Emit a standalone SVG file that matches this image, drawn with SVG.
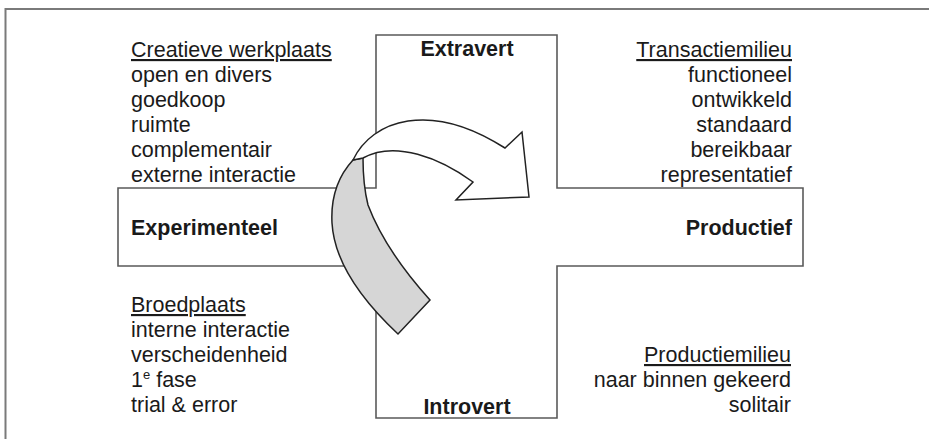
<svg xmlns="http://www.w3.org/2000/svg" width="929" height="439" viewBox="0 0 929 439">
<style>
text{font-family:"Liberation Sans",Arial,sans-serif;font-size:21.5px;fill:#1a1a1a}
.b{font-weight:bold}
.r{text-anchor:end}
.m{text-anchor:middle}
.u{text-decoration:underline}
.frame{fill:none;stroke:#7a7a7a;stroke-width:2}
.cross{fill:#fff;stroke:#5a5a5a;stroke-width:1.6}
.arrow{stroke:#222;stroke-width:1.5;stroke-linejoin:miter}
</style>
<rect width="929" height="439" fill="#fff"/>
<rect class="frame" x="5.5" y="9" width="1000" height="1000"/>
<g id="cross">
<path class="cross" d="M376,35 H557 V188 H803 V266 H557 V418 H376 V266 H118 V188 H376 Z"/>
<text class="b m" x="467" y="56">Extravert</text>
<text class="b m" x="467" y="414">Introvert</text>
<text class="b" x="131" y="235">Experimenteel</text>
<text class="b r" x="792" y="235">Productief</text>
</g>
<g id="creatieve-werkplaats">
<text class="u" x="131" y="57">Creatieve werkplaats</text>
<text x="131" y="82">open en divers</text>
<text x="131" y="107">goedkoop</text>
<text x="131" y="132">ruimte</text>
<text x="131" y="157">complementair</text>
<text x="131" y="182">externe interactie</text>
</g>
<g id="transactiemilieu">
<text class="u r" x="792" y="57">Transactiemilieu</text>
<text class="r" x="792" y="82">functioneel</text>
<text class="r" x="792" y="107">ontwikkeld</text>
<text class="r" x="792" y="132">standaard</text>
<text class="r" x="792" y="157">bereikbaar</text>
<text class="r" x="792" y="182">representatief</text>
</g>
<g id="broedplaats">
<text class="u" x="131" y="312">Broedplaats</text>
<text x="131" y="337">interne interactie</text>
<text x="131" y="362">verscheidenheid</text>
<text x="131" y="387">1<tspan dy="-8" font-size="13">e</tspan><tspan dy="8"> fase</tspan></text>
<text x="131" y="412">trial &amp; error</text>
</g>
<g id="productiemilieu">
<text class="u r" x="791" y="362">Productiemilieu</text>
<text class="r" x="791" y="387">naar binnen gekeerd</text>
<text class="r" x="791" y="412">solitair</text>
</g>
<g id="connectors">
<path class="arrow" fill="#d6d6d6" d="M353,160 Q330,185 332,223 Q335,275 398,334 L430,300 Q385,250 368,205 Q363,185 363,158 Z"/>
<path class="arrow" fill="#fff" d="M353,160 C372,120 430,100 505,148 L522,132 L529,197 L456,200 L473,182 C440,158 395,140 363,158 Z"/>
</g>
</svg>
